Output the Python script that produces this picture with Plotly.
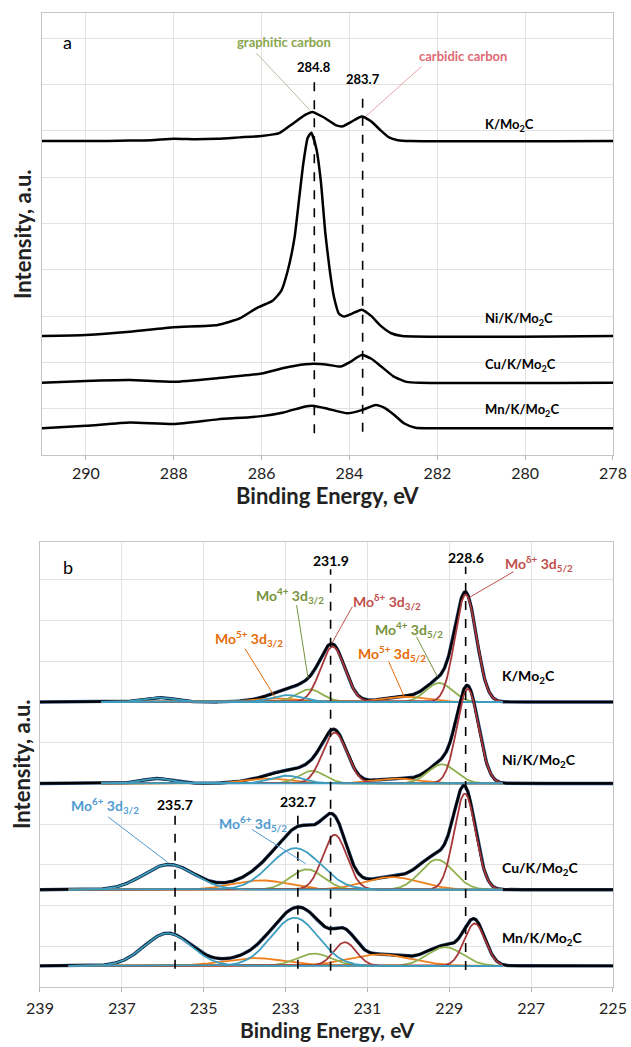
import numpy as np
import plotly.graph_objects as go

FONT = "Lato"

# ---------------- Panel a: C 1s spectra ----------------
c1s_names = ["K/Mo<sub>2</sub>C", "Ni/K/Mo<sub>2</sub>C", "Cu/K/Mo<sub>2</sub>C", "Mn/K/Mo<sub>2</sub>C"]

c1s_k_be = [291.0, 290.0, 289.0, 288.5, 288.0, 287.5, 287.0, 286.5, 286.0, 285.6, 285.3, 285.0,
            284.85, 284.6, 284.3, 284.15, 283.95, 283.72, 283.5, 283.3, 283.1, 282.9, 282.6, 278.0]
c1s_k_int = [6.78, 6.78, 6.79, 6.80, 6.83, 6.82, 6.83, 6.86, 6.89, 6.95, 7.15, 7.35,
             7.41, 7.30, 7.12, 7.10, 7.20, 7.31, 7.20, 7.02, 6.86, 6.80, 6.78, 6.78]

c1s_ni_be = [291.0, 290.0, 289.0, 288.0, 287.0, 286.5, 286.1, 285.75, 285.55, 285.4, 285.25, 285.15,
             285.05, 284.95, 284.87, 284.75, 284.65, 284.55, 284.45, 284.35, 284.24, 284.12, 283.95,
             283.72, 283.5, 283.3, 283.05, 282.8, 278.0]
c1s_ni_int = [2.57, 2.59, 2.66, 2.76, 2.81, 2.95, 3.18, 3.33, 3.55, 4.0, 4.7, 5.5,
              6.3, 6.85, 6.96, 6.6, 5.9, 4.8, 4.0, 3.4, 3.05, 2.99, 3.05,
              3.14, 3.0, 2.8, 2.63, 2.57, 2.57]

c1s_cu_be = [291.0, 290.0, 289.0, 288.0, 287.0, 286.0, 285.5, 285.0, 284.8, 284.5, 284.2, 284.0,
             283.72, 283.5, 283.3, 283.0, 282.7, 282.4, 278.0]
c1s_cu_int = [1.56, 1.60, 1.62, 1.58, 1.66, 1.76, 1.88, 1.96, 1.97, 1.95, 1.91, 2.00,
              2.16, 2.08, 1.93, 1.70, 1.58, 1.56, 1.56]

c1s_mn_be = [291.0, 290.0, 289.0, 288.0, 287.0, 286.0, 285.5, 285.0, 284.8, 284.5, 284.05, 283.72,
             283.4, 283.2, 283.0, 282.75, 282.5, 282.2, 278.0]
c1s_mn_int = [0.58, 0.63, 0.70, 0.67, 0.77, 0.84, 0.92, 1.05, 1.06, 1.00, 0.90, 0.97,
              1.08, 1.02, 0.88, 0.68, 0.59, 0.58, 0.58]

c1s_label_int = [7.13, 2.94, 1.94, 0.97]
c1s_ref_be = [284.8, 283.7]

# ---------------- Panel b: Mo 3d spectra ----------------
mo3d_names = c1s_names
mo3d_offset = [7.0, 5.0, 2.39, 0.52]
mo3d_label_int = [7.62, 5.57, 2.91, 1.19]
mo3d_ref_be = [235.7, 232.7, 231.9, 228.6]

# fitted components (same order in every sample)
mo3d_components = ["Mo<sup>δ+</sup> 3d<sub>5/2</sub>", "Mo<sup>δ+</sup> 3d<sub>3/2</sub>",
                   "Mo<sup>4+</sup> 3d<sub>5/2</sub>", "Mo<sup>4+</sup> 3d<sub>3/2</sub>",
                   "Mo<sup>5+</sup> 3d<sub>5/2</sub>", "Mo<sup>5+</sup> 3d<sub>3/2</sub>",
                   "Mo<sup>6+</sup> 3d<sub>5/2</sub>", "Mo<sup>6+</sup> 3d<sub>3/2</sub>"]
mo3d_state = ["d", "d", "4", "4", "5", "5", "6", "6"]

k_center = [228.60, 231.85, 229.25, 232.42, 230.10, 233.25, 232.95, 236.10]
k_height = [2.64, 1.36, 0.47, 0.31, 0.13, 0.09, 0.17, 0.11]
k_fwhm = [0.62, 0.70, 0.75, 0.75, 1.20, 1.20, 0.90, 0.90]

ni_center = [228.55, 231.80, 229.18, 232.35, 230.30, 233.40, 232.98, 236.15]
ni_height = [2.32, 1.25, 0.47, 0.31, 0.12, 0.12, 0.19, 0.12]
ni_fwhm = [0.62, 0.70, 0.80, 0.75, 1.30, 1.30, 0.90, 0.90]

cu_center = [228.62, 231.80, 229.30, 232.48, 230.40, 233.60, 232.76, 235.85]
cu_height = [2.36, 1.35, 0.74, 0.50, 0.31, 0.23, 1.02, 0.62]
cu_fwhm = [0.62, 0.70, 0.95, 0.95, 1.60, 1.60, 1.45, 1.45]

mn_center = [228.38, 231.55, 229.10, 232.30, 230.70, 233.75, 232.78, 235.88]
mn_height = [1.04, 0.58, 0.46, 0.30, 0.28, 0.19, 1.18, 0.80]
mn_fwhm = [0.60, 0.65, 1.00, 1.00, 1.80, 1.80, 1.35, 1.35]

mo3d_fit_span = [(237.5, 227.7), (237.5, 227.7), (238.3, 227.7), (238.3, 227.7)]

line_col = {"d": "#a8383a", "4": "#8eb04e", "5": "#f07f1e", "6": "#3c9dbf"}
text_col = {"d": "#c0504d", "4": "#77933c", "5": "#e46c0a", "6": "#4f9bd2"}

fig = go.Figure()

# ---- panel a traces
for be, inten in [(c1s_k_be, c1s_k_int), (c1s_ni_be, c1s_ni_int),
                  (c1s_cu_be, c1s_cu_int), (c1s_mn_be, c1s_mn_int)]:
    fig.add_trace(go.Scatter(x=be, y=inten, mode="lines",
                             line=dict(color="black", width=2.5, shape="spline", smoothing=0.5),
                             xaxis="x", yaxis="y", hoverinfo="skip"))


def gauss(x, c, h, w):
    return h * np.exp(-4 * np.log(2) * (x - c) ** 2 / w ** 2)


be_grid = np.linspace(239, 225, 1401)
fits = [(k_center, k_height, k_fwhm), (ni_center, ni_height, ni_fwhm),
        (cu_center, cu_height, cu_fwhm), (mn_center, mn_height, mn_fwhm)]

draw_order = ["5", "4", "d", "6"]
for (cen, hgt, fw), base, (hi, lo) in zip(fits, mo3d_offset, mo3d_fit_span):
    comps = [gauss(be_grid, c, h, w) for c, h, w in zip(cen, hgt, fw)]
    envelope = base + np.sum(comps, axis=0)
    fig.add_trace(go.Scatter(x=be_grid, y=envelope, mode="lines",
                             line=dict(color="#24406b", width=3.4),
                             xaxis="x2", yaxis="y2", hoverinfo="skip"))
    fig.add_trace(go.Scatter(x=be_grid, y=envelope, mode="lines",
                             line=dict(color="black", width=2.2),
                             xaxis="x2", yaxis="y2", hoverinfo="skip"))
    mask = (be_grid <= hi) & (be_grid >= lo)
    for st in draw_order:
        for comp, s in zip(comps, mo3d_state):
            if s != st:
                continue
            fig.add_trace(go.Scatter(x=be_grid[mask], y=base + comp[mask], mode="lines",
                                     line=dict(color=line_col[s], width=1.8),
                                     xaxis="x2", yaxis="y2", hoverinfo="skip"))

shapes = []
annotations = []

# ---- panel a reference lines and labels
ref_a_top = [8.17, 7.88]
ref_a_bot = [0.47, 0.50]
ref_a_lab = [8.38, 8.12]
for be, top, bot, ly in zip(c1s_ref_be, ref_a_top, ref_a_bot, ref_a_lab):
    shapes.append(dict(type="line", xref="x", yref="y", x0=be, x1=be, y0=bot, y1=top,
                       line=dict(color="black", width=1.6, dash="dash")))
    annotations.append(dict(x=be, y=ly, xref="x", yref="y", text=f"<b>{be}</b>",
                            showarrow=False, font=dict(family=FONT, size=13, color="black")))

for name, ly in zip(c1s_names, c1s_label_int):
    annotations.append(dict(x=280.97, y=ly, xref="x", yref="y", text=f"<b>{name}</b>",
                            xanchor="left", showarrow=False,
                            font=dict(family=FONT, size=13, color="black")))

annotations.append(dict(x=285.5, y=8.92, xref="x", yref="y", text="<b>graphitic carbon</b>",
                        showarrow=False, font=dict(family=FONT, size=13, color="#8aa64e")))
shapes.append(dict(type="line", xref="x", yref="y", x0=286.12, y0=8.68, x1=284.9, y1=7.45,
                   line=dict(color="#b9b9a6", width=1)))
annotations.append(dict(x=281.42, y=8.62, xref="x", yref="y", text="<b>carbidic carbon</b>",
                        showarrow=False, font=dict(family=FONT, size=13, color="#e06a74")))
shapes.append(dict(type="line", xref="x", yref="y", x0=282.36, y0=8.39, x1=283.62, y1=7.32,
                   line=dict(color="#eaa3aa", width=1)))
annotations.append(dict(x=290.43, y=8.92, xref="x", yref="y", text="a", showarrow=False,
                        font=dict(family=FONT, size=18, color="black")))

# ---- panel b reference lines and labels
ref_b_top = [4.24, 4.26, 10.26, 10.32]
ref_b_bot = [0.45, 0.45, 0.40, 0.42]
ref_b_lab = [4.48, 4.56, 10.47, 10.56]
for be, top, bot, ly in zip(mo3d_ref_be, ref_b_top, ref_b_bot, ref_b_lab):
    shapes.append(dict(type="line", xref="x2", yref="y2", x0=be, x1=be, y0=bot, y1=top,
                       line=dict(color="black", width=1.6, dash="dash")))
    annotations.append(dict(x=be, y=ly, xref="x2", yref="y2", text=f"<b>{be}</b>",
                            showarrow=False, font=dict(family=FONT, size=14, color="black")))

for name, ly in zip(mo3d_names, mo3d_label_int):
    annotations.append(dict(x=227.75, y=ly, xref="x2", yref="y2", text=f"<b>{name}</b>",
                            xanchor="left", showarrow=False,
                            font=dict(family=FONT, size=14, color="black")))

# component callouts: (component index, label x, label y, leader start, leader end)
callouts = [
    (3, 232.89, 9.62, (232.73, 9.38), (232.45, 7.58)),
    (5, 233.89, 8.56, (233.99, 8.31), (233.26, 7.12)),
    (1, 230.52, 9.46, (231.37, 9.34), (231.87, 8.44)),
    (2, 229.99, 8.77, (229.80, 8.60), (229.29, 7.62)),
    (4, 230.40, 8.19, (230.48, 7.99), (230.10, 7.13)),
    (0, 226.80, 10.39, (227.43, 10.20), (228.49, 9.58)),
    (7, 237.41, 4.46, (237.34, 4.18), (235.89, 3.07)),
    (6, 233.80, 4.01, (233.82, 3.87), (232.51, 3.03)),
]
for idx, lx, ly, (x0, y0), (x1, y1) in callouts:
    s = mo3d_state[idx]
    annotations.append(dict(x=lx, y=ly, xref="x2", yref="y2", text=f"<b>{mo3d_components[idx]}</b>",
                            showarrow=False, font=dict(family=FONT, size=14, color=text_col[s])))
    shapes.append(dict(type="line", xref="x2", yref="y2", x0=x0, y0=y0, x1=x1, y1=y1,
                       line=dict(color=text_col[s], width=1)))

annotations.append(dict(x=238.32, y=10.32, xref="x2", yref="y2", text="b", showarrow=False,
                        font=dict(family=FONT, size=18, color="black")))

# ---- axis titles, placed in paper coordinates
title_font = dict(family=FONT, size=22, color="#222")
for ty, fs in ((0.5272, 22), (0.0165, 21)):
    annotations.append(dict(x=0.519, y=ty, xref="paper", yref="paper", showarrow=False,
                            text="<b>Binding Energy, eV</b>", font=dict(title_font, size=fs),
                            xanchor="center", yanchor="middle"))
for ty in (0.7765, 0.2703):
    annotations.append(dict(x=0.0349, y=ty, xref="paper", yref="paper", showarrow=False,
                            text="<b>Intensity, a.u.</b>", font=title_font, textangle=-90,
                            xanchor="center", yanchor="middle"))

axis_common = dict(showgrid=True, gridcolor="#e2e2e2", gridwidth=1, zeroline=False,
                   showline=True, linecolor="#c4c4c4", linewidth=1, mirror=True,
                   automargin=False)

xa = dict(axis_common, ticks="outside", ticklen=4, tickcolor="#b5b5b5", dtick=2,
          tickfont=dict(family=FONT, size=16, color="#222"))
ya = dict(axis_common, showticklabels=False, ticks="", dtick=1, tick0=0)

fig.update_layout(
    width=631, height=1047,
    margin=dict(l=0, r=0, t=0, b=0),
    paper_bgcolor="white", plot_bgcolor="white",
    showlegend=False,
    xaxis=dict(xa, domain=[0.06656, 0.97147], range=[291, 278], tick0=278, anchor="y"),
    yaxis=dict(ya, domain=[0.5654, 0.98758], range=[0, 9.546], anchor="x"),
    xaxis2=dict(xa, domain=[0.06339, 0.97147], range=[239, 225], tick0=225, anchor="y2",
                ticklabelstandoff=3),
    yaxis2=dict(ya, domain=[0.05731, 0.48233], range=[0, 10.93], anchor="x2"),
    shapes=shapes,
    annotations=annotations,
)

fig.write_html("out.html")
